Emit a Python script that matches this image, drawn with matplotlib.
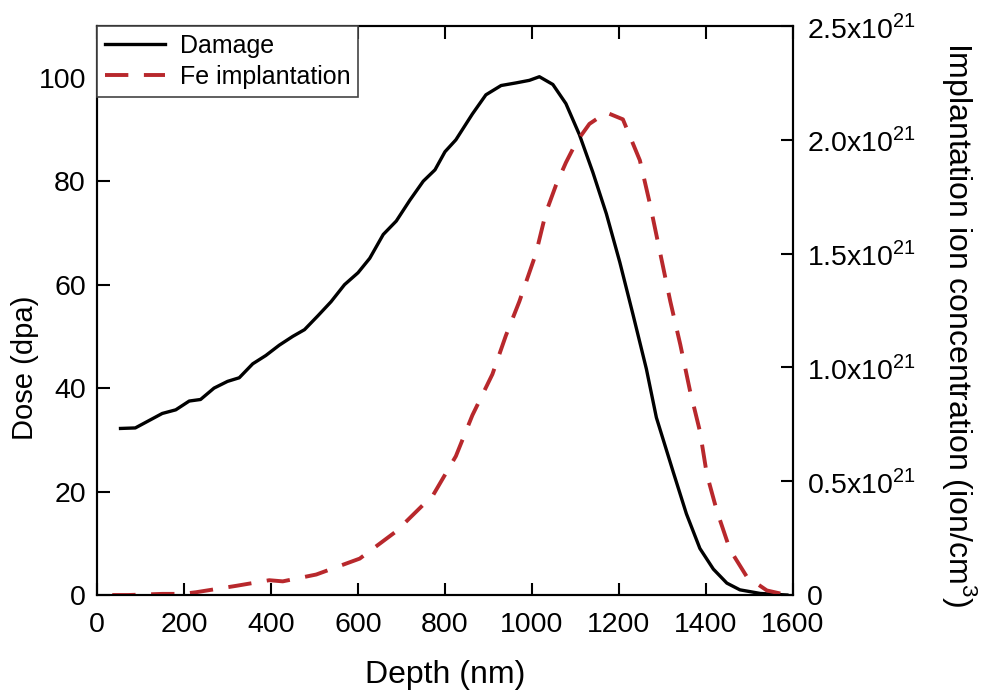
import numpy as np
import matplotlib
matplotlib.use("Agg")
import matplotlib.pyplot as plt
from matplotlib.ticker import FixedLocator, FixedFormatter

plt.rcParams['font.family'] = ['Liberation Sans', 'DejaVu Sans']
plt.rcParams['mathtext.fontset'] = 'custom'
plt.rcParams['mathtext.rm'] = 'Liberation Sans'

# damage profile (dpa)
damage_depth = [54, 88, 150, 181, 212, 238, 269, 300, 327, 358, 388, 419, 450, 477,
                508, 538, 569, 600, 627, 658, 688, 719, 750, 777, 800, 825, 863, 894,
                929, 963, 994, 1017, 1048, 1078, 1109, 1140, 1171, 1202, 1232, 1263,
                1286, 1325, 1355, 1386, 1417, 1448, 1478, 1525, 1586]
damage_dose = [32.2, 32.3, 35.1, 35.8, 37.5, 37.8, 40.0, 41.3, 42.0, 44.7, 46.3, 48.3,
               50.0, 51.3, 54.0, 56.7, 60.0, 62.3, 65.1, 69.7, 72.3, 76.3, 80.0, 82.2,
               85.7, 88.0, 93.0, 96.7, 98.5, 99.0, 99.5, 100.2, 98.7, 95.0, 89.0, 81.7,
               73.7, 64.3, 54.3, 43.7, 34.3, 23.7, 15.7, 9.0, 5.0, 2.3, 1.0, 0.3, 0.0]

# Fe implantation profile (ion/cm^3, units of 1e21)
fe_depth = [35, 73, 150, 196, 227, 319, 396, 427, 504, 604, 688, 773, 825, 863, 909,
            940, 971, 1009, 1032, 1055, 1078, 1102, 1132, 1171, 1209, 1248, 1271,
            1295, 1318, 1341, 1363, 1386, 1402, 1425, 1455, 1494, 1540, 1586]
fe_conc = [0.0, 0.0, 0.005, 0.005, 0.012, 0.04, 0.065, 0.06, 0.09, 0.16, 0.28, 0.44,
           0.61, 0.79, 0.97, 1.14, 1.29, 1.50, 1.68, 1.80, 1.90, 1.99, 2.07, 2.12,
           2.09, 1.91, 1.72, 1.50, 1.29, 1.10, 0.90, 0.72, 0.53, 0.37, 0.20, 0.08,
           0.02, 0.0]

right_ticks = [0, 0.5e21, 1.0e21, 1.5e21, 2.0e21, 2.5e21]
right_labels = ['0', r'0.5x10$^{21}$', r'1.0x10$^{21}$', r'1.5x10$^{21}$',
                r'2.0x10$^{21}$', r'2.5x10$^{21}$']

fig = plt.figure(figsize=(9.88, 6.96), dpi=100)
ax = fig.add_axes([0.0982, 0.1451, 0.7044, 0.8175])
ax2 = ax.twinx()

l1, = ax.plot(damage_depth, damage_dose, color='black', lw=2.4, label='Damage')
l2, = ax2.plot(fe_depth, np.array(fe_conc) * 1e21, color='#b8282c', lw=2.8,
               dashes=(6, 4), label='Fe implantation')

ax.set_xlim(0, 1600)
ax.set_ylim(0, 110)
ax2.set_ylim(0, 2.5e21)
ax.set_xticks(range(0, 1601, 200))
ax.set_yticks(range(0, 101, 20))
ax2.yaxis.set_major_locator(FixedLocator(right_ticks))
ax2.yaxis.set_major_formatter(FixedFormatter(right_labels))

ax.tick_params(axis='x', direction='in', top=True, length=9, width=1.5,
               labelsize=20.5, pad=12)
ax.tick_params(axis='y', direction='in', length=9, width=1.5, labelsize=20.5, pad=8)
ax2.tick_params(axis='y', direction='in', length=9, width=1.5, labelsize=20.5, pad=10)
for a in (ax, ax2):
    for s in a.spines.values():
        s.set_linewidth(1.5)

ax.set_xlabel('Depth (nm)', fontsize=23, labelpad=16)
ax.set_ylabel('Dose (dpa)', fontsize=21, va='center')
ax.yaxis.set_label_coords(-0.103, 0.40)
ax2.set_ylabel('Implantation ion concentration (ion/cm$^3$)', fontsize=23,
               rotation=270, va='center')
ax2.yaxis.set_label_coords(1.24, 0.475)

leg = ax2.legend(handles=[l1, l2], loc='upper left', fontsize=18, frameon=True,
                 fancybox=False, framealpha=1, borderaxespad=0, handlelength=2.4,
                 borderpad=0.3, labelspacing=0.3, handletextpad=0.6)
leg.get_frame().set_edgecolor('#444444')
leg.get_frame().set_linewidth(1.2)

fig.savefig('out.png', dpi=100)
